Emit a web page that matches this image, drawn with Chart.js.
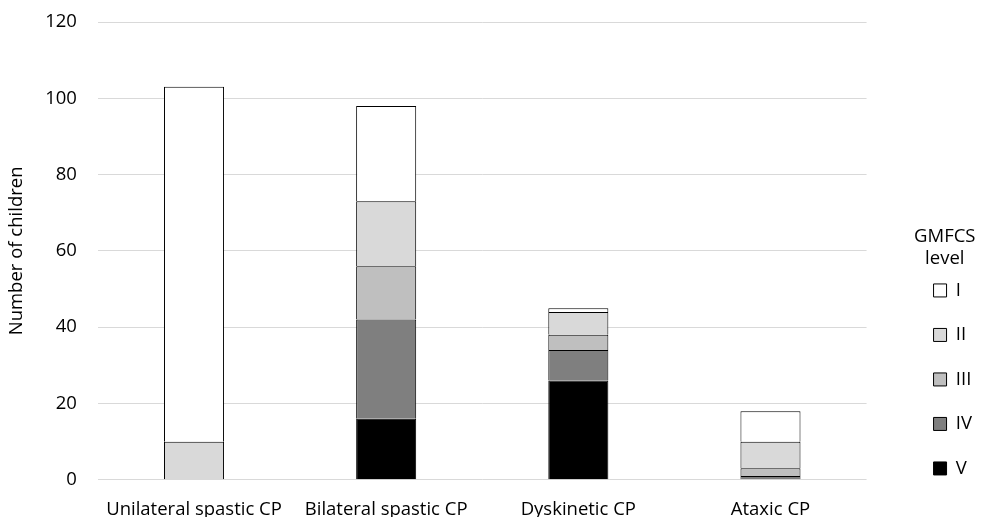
<!DOCTYPE html>
<html><head><meta charset="utf-8">
<script src="https://cdn.jsdelivr.net/npm/chart.js@4"></script>
<style>html,body{margin:0;padding:0;background:#fff;}#wrap{width:982px;height:517px;}</style>
</head><body><div id="wrap"><canvas id="c"></canvas></div>
<script>
const categories = ["Unilateral spastic CP", "Bilateral spastic CP", "Dyskinetic CP", "Ataxic CP"];
const levelI   = [93, 25, 1, 8];
const levelII  = [10, 17, 6, 7];
const levelIII = [0, 14, 4, 2];
const levelIV  = [0, 26, 8, 1];
const levelV   = [0, 16, 26, 0];
const yTicks = [0, 20, 40, 60, 80, 100, 120];

const font = "'Open Sans', sans-serif";
const fs = 18.5;
const txt = '#000';
function ds(label, data, color) {
  return { label, data, backgroundColor: color, borderColor: '#000', borderWidth: 1,
           barPercentage: 0.3125, categoryPercentage: 1.0, yAxisID: 'y' };
}
new Chart(document.getElementById('c'), {
  type: 'bar',
  data: {
    labels: categories,
    datasets: [
      ds('V', levelV, '#000000'),
      ds('IV', levelIV, '#7f7f7f'),
      ds('III', levelIII, '#bfbfbf'),
      ds('II', levelII, '#d9d9d9'),
      ds('I', levelI, '#ffffff')
    ]
  },
  options: {
    responsive: true, maintainAspectRatio: false, animation: false,
    layout: { padding: { top: 22, right: 0, bottom: -15, left: 6 } },
    plugins: {
      tooltip: { enabled: false },
      legend: {
        position: 'right', reverse: true, align: 'start',
        title: { display: true, text: ['GMFCS', 'level'], color: txt, font: { family: font, size: fs }, padding: { top: 205, bottom: 6 } },
        labels: { boxWidth: 13, boxHeight: 13, padding: 26, color: txt, font: { family: font, size: fs } }
      }
    },
    scales: {
      x: { stacked: true,
           grid: { display: false },
           border: { display: false },
           ticks: { color: txt, font: { family: font, size: fs }, padding: 11, maxRotation: 0, minRotation: 0 } },
      y: { stacked: true, min: 0, max: 120, position: 'left',
           afterBuildTicks: (axis) => { axis.ticks = yTicks.map(v => ({ value: v })); },
           afterFit: (s) => { s.paddingTop = 0; s.paddingBottom = 0; },
           grid: { color: '#d9d9d9', lineWidth: 1, drawTicks: false },
           border: { display: false },
           ticks: { color: txt, font: { family: font, size: fs }, padding: 21 },
           title: { display: true, text: 'Number of children', color: txt, font: { family: font, size: fs }, padding: { top: 0, bottom: -4 } } },
      gap: { position: 'right', display: true, grid: { display: false }, border: { display: false },
             ticks: { display: false }, afterFit: (s) => { s.width = 41; } }
    }
  }
});
</script></body></html>
